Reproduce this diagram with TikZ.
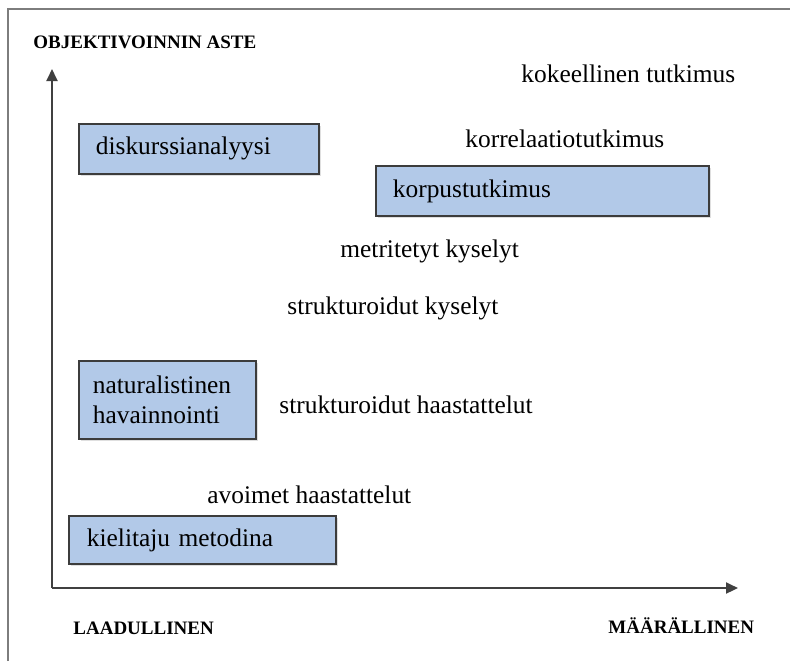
\documentclass[tikz,border=0pt]{standalone}
\usepackage{fontspec}
\setmainfont{Liberation Serif}
\usetikzlibrary{arrows.meta,shadows}
\definecolor{boxblue}{RGB}{178,201,232}
\definecolor{boxedge}{RGB}{60,60,60}
\definecolor{framegray}{RGB}{125,125,125}

\begin{document}
\begin{tikzpicture}
    [x=0.5pt,y=-0.5pt,
    MethodBox/.style={draw=boxedge, line width=0.9pt, fill=boxblue, anchor=north west,
        align=left, inner xsep=8.5pt, inner ysep=0pt, minimum height=25pt,
        drop shadow={opacity=0.25,shadow xshift=0.8pt,shadow yshift=-0.8pt},
        font=\fontsize{12.7}{15}\selectfont},
    method text/.style={anchor=base west, inner sep=0pt, font=\fontsize{12.7}{15}\selectfont},
    axis label/.style={anchor=base west, inner sep=0pt, font=\fontsize{9.5}{11}\selectfont\bfseries},
    axis line/.style={line width=1pt, draw=black!75, -{Triangle[length=6pt,width=5.5pt]}},
    ]
    \useasboundingbox (0,0) rectangle (790,661);

    %frame
    \draw[framegray, line width=0.8pt] (8,661) -- (8,9) -- (790,9);

    %axes
    \coordinate (origin) at (52,588);
    \coordinate (ytip) at (52,69);
    \coordinate (xtip) at (738,588);
    \draw[axis line] (origin) -- (ytip);
    \draw[axis line] (origin) -- (xtip);
    \node[axis label] (objektivointi) at (33,48) {OBJEKTIVOINNIN ASTE};
    \node[axis label] (laadullinen) at (73,634) {LAADULLINEN};
    \node[axis label] (maarallinen) at (608,633) {MÄÄRÄLLINEN};

    %boxes
    \node[MethodBox, text width=103pt] (diskurssi) at (78,123) {diskurssianalyysi};
    \node[MethodBox, text width=149.5pt] (korpus) at (375,165) {korpustutkimus};
    \node[MethodBox, text width=74.5pt, inner xsep=7pt, minimum height=39pt] (naturalistinen) at (78,360) {naturalistinen\\havainnointi};
    \node[MethodBox, text width=115.5pt, inner xsep=9pt, minimum height=24pt] (kielitaju) at (68,515) {kielitaju metodina};

    %methods
    \node[method text] (kokeellinen) at (521,82) {kokeellinen tutkimus};
    \node[method text] (korrelaatio) at (465,147) {korrelaatiotutkimus};
    \node[method text] (metritetyt) at (340,257) {metritetyt kyselyt};
    \node[method text] (strkyselyt) at (287,314) {strukturoidut kyselyt};
    \node[method text] (strhaast) at (279,413) {strukturoidut haastattelut};
    \node[method text] (avoimet) at (207,503) {avoimet haastattelut};

\end{tikzpicture}
\end{document}
